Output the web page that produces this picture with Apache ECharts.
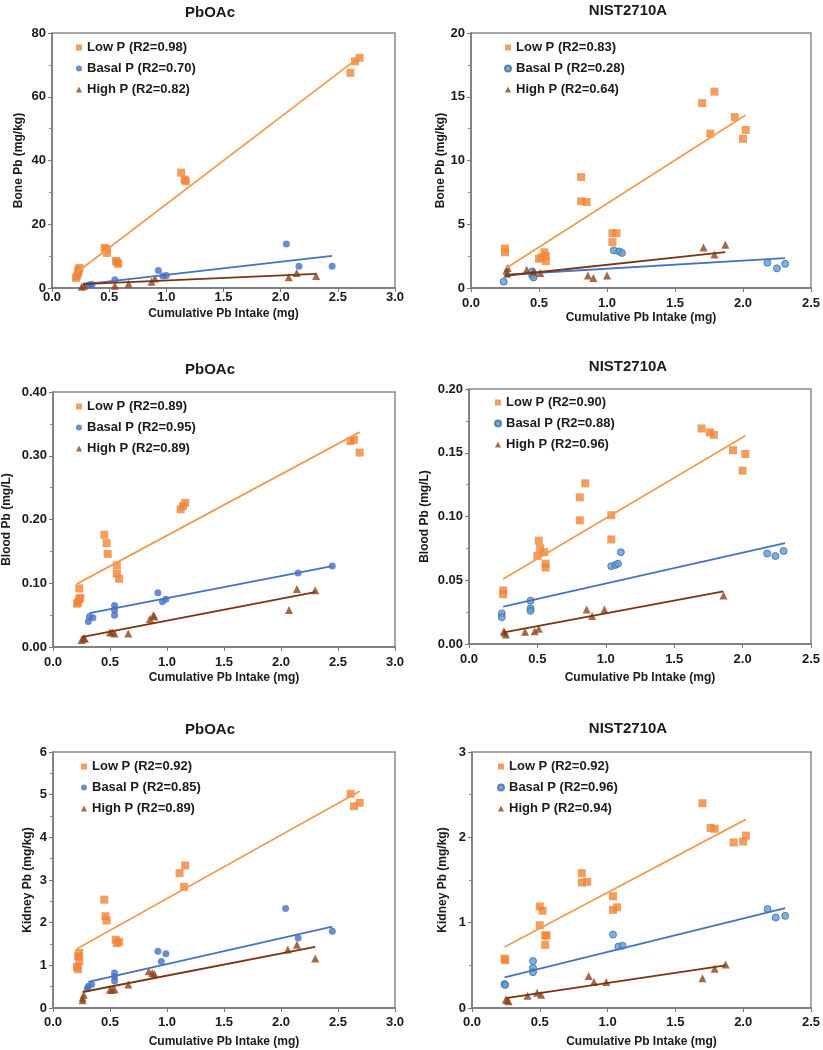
<!DOCTYPE html>
<html>
<head>
<meta charset="utf-8">
<script src="https://cdn.jsdelivr.net/npm/echarts@6/dist/echarts.min.js"></script>
<style>
html,body{margin:0;padding:0;background:#fff;}
#chart{width:823px;height:1050px;}
</style>
</head>
<body>
<div id="chart"></div>
<script>
// ---------- DATA ----------
const panelTitles = ['PbOAc', 'NIST2710A', 'PbOAc', 'NIST2710A', 'PbOAc', 'NIST2710A'];
const yAxisNames = ['Bone Pb (mg/kg)', 'Bone Pb (mg/kg)', 'Blood Pb (mg/L)', 'Blood Pb (mg/L)', 'Kidney Pb (mg/kg)', 'Kidney Pb (mg/kg)'];
const xAxisName = 'Cumulative Pb Intake (mg)';
const yMax = [80, 20, 0.40, 0.20, 6, 3];
const yInterval = [20, 5, 0.10, 0.05, 1, 1];
const yDecimals = [0, 0, 2, 2, 0, 0];
const xMax = [3.0, 2.5, 3.0, 2.5, 3.0, 2.5];

const legendLow = ['Low P (R2=0.98)', 'Low P (R2=0.83)', 'Low P (R2=0.89)', 'Low P (R2=0.90)', 'Low P (R2=0.92)', 'Low P (R2=0.92)'];
const legendBasal = ['Basal P (R2=0.70)', 'Basal P (R2=0.28)', 'Basal P (R2=0.95)', 'Basal P (R2=0.88)', 'Basal P (R2=0.85)', 'Basal P (R2=0.96)'];
const legendHigh = ['High P (R2=0.82)', 'High P (R2=0.64)', 'High P (R2=0.89)', 'High P (R2=0.96)', 'High P (R2=0.89)', 'High P (R2=0.94)'];

// Bone, PbOAc
const boneOAcLow = [[0.21,3.2],[0.22,3.9],[0.23,4.8],[0.23,5.6],[0.24,6.3],[0.46,12.6],[0.48,12.2],[0.48,11.0],[0.56,8.5],[0.57,8.0],[0.58,7.6],[1.13,36.2],[1.16,34.0],[1.17,33.5],[2.61,67.5],[2.65,71.1],[2.69,72.2]];
const boneOAcBasal = [[0.31,0.8],[0.33,1.0],[0.35,1.1],[0.55,2.6],[0.93,5.5],[0.97,3.8],[1.0,3.9],[2.05,13.8],[2.16,6.8],[2.45,6.8]];
const boneOAcHigh = [[0.26,0.4],[0.28,0.7],[0.55,0.7],[0.67,1.3],[0.87,2.0],[0.90,3.0],[2.07,3.4],[2.14,4.7],[2.31,3.8]];
const boneOAcLowFit = [[0.21,4.7],[2.69,72.5]];
const boneOAcBasalFit = [[0.33,1.35],[2.45,10.1]];
const boneOAcHighFit = [[0.27,1.2],[2.31,4.4]];

// Bone, NIST2710A
const boneNistLow = [[0.25,3.1],[0.25,2.8],[0.50,2.3],[0.52,2.4],[0.54,2.8],[0.55,2.5],[0.55,2.1],[0.81,8.7],[0.81,6.8],[0.85,6.75],[1.04,4.3],[1.07,4.3],[1.04,3.6],[1.70,14.5],[1.79,15.4],[1.76,12.1],[1.94,13.4],[2.00,11.7],[2.02,12.4]];
const boneNistBasal = [[0.24,0.5],[0.45,1.3],[0.45,1.0],[0.46,0.83],[1.05,2.95],[1.09,2.87],[1.11,2.75],[2.18,1.98],[2.25,1.54],[2.31,1.9]];
const boneNistHigh = [[0.26,1.38],[0.265,1.12],[0.27,1.56],[0.41,1.43],[0.46,1.28],[0.51,1.17],[0.86,0.99],[0.90,0.78],[1.00,0.99],[1.71,3.18],[1.79,2.63],[1.87,3.39]];
const boneNistLowFit = [[0.26,1.56],[2.02,13.56]];
const boneNistBasalFit = [[0.25,1.04],[2.31,2.35]];
const boneNistHighFit = [[0.25,0.96],[1.87,2.82]];

// Blood, PbOAc
const bloodOAcLow = [[0.21,0.068],[0.22,0.070],[0.23,0.075],[0.24,0.077],[0.23,0.092],[0.45,0.176],[0.47,0.163],[0.48,0.146],[0.56,0.128],[0.56,0.115],[0.58,0.107],[1.12,0.216],[1.14,0.221],[1.16,0.226],[2.61,0.323],[2.64,0.325],[2.69,0.305]];
const bloodOAcBasal = [[0.31,0.040],[0.32,0.048],[0.35,0.046],[0.54,0.065],[0.54,0.058],[0.54,0.050],[0.92,0.085],[0.96,0.071],[0.99,0.075],[2.15,0.116],[2.45,0.127]];
const bloodOAcHigh = [[0.25,0.011],[0.27,0.014],[0.28,0.013],[0.50,0.023],[0.52,0.023],[0.54,0.021],[0.66,0.021],[0.85,0.044],[0.88,0.050],[0.89,0.048],[2.07,0.058],[2.14,0.091],[2.30,0.089]];
const bloodOAcLowFit = [[0.21,0.099],[2.69,0.337]];
const bloodOAcBasalFit = [[0.32,0.053],[2.45,0.127]];
const bloodOAcHighFit = [[0.25,0.0156],[2.30,0.086]];

// Blood, NIST2710A
const bloodNistLow = [[0.25,0.042],[0.25,0.039],[0.51,0.081],[0.52,0.075],[0.50,0.069],[0.55,0.072],[0.56,0.063],[0.56,0.060],[0.81,0.115],[0.81,0.097],[0.85,0.126],[1.04,0.101],[1.04,0.082],[1.70,0.169],[1.76,0.166],[1.79,0.164],[1.93,0.152],[2.00,0.136],[2.02,0.149]];
const bloodNistBasal = [[0.24,0.024],[0.24,0.021],[0.45,0.034],[0.45,0.028],[0.45,0.026],[1.04,0.061],[1.07,0.062],[1.09,0.063],[1.11,0.072],[2.18,0.071],[2.24,0.069],[2.30,0.073]];
const bloodNistHigh = [[0.255,0.010],[0.27,0.0075],[0.26,0.009],[0.41,0.0097],[0.48,0.010],[0.51,0.012],[0.86,0.027],[0.90,0.022],[0.99,0.027],[1.86,0.038]];
const bloodNistLowFit = [[0.25,0.051],[2.02,0.1634]];
const bloodNistBasalFit = [[0.25,0.0293],[2.31,0.0792]];
const bloodNistHighFit = [[0.255,0.0092],[1.86,0.0413]];

// Kidney, PbOAc
const kidneyOAcLow = [[0.21,0.96],[0.22,0.91],[0.23,1.10],[0.22,1.21],[0.23,1.29],[0.45,2.54],[0.46,2.15],[0.47,2.05],[0.55,1.60],[0.56,1.52],[0.58,1.55],[1.11,3.16],[1.16,3.34],[1.15,2.84],[2.61,5.02],[2.64,4.73],[2.69,4.81]];
const kidneyOAcBasal = [[0.30,0.45],[0.31,0.51],[0.34,0.55],[0.54,0.82],[0.54,0.73],[0.54,0.63],[0.92,1.33],[0.95,1.09],[0.99,1.27],[2.04,2.33],[2.15,1.64],[2.45,1.80]];
const kidneyOAcHigh = [[0.26,0.18],[0.26,0.24],[0.27,0.31],[0.50,0.43],[0.52,0.43],[0.54,0.44],[0.66,0.55],[0.84,0.86],[0.87,0.82],[0.89,0.80],[2.06,1.37],[2.14,1.48],[2.30,1.16]];
const kidneyOAcLowFit = [[0.21,1.39],[2.69,5.08]];
const kidneyOAcBasalFit = [[0.31,0.61],[2.45,1.91]];
const kidneyOAcHighFit = [[0.26,0.375],[2.30,1.43]];

// Kidney, NIST2710A
const kidneyNistLow = [[0.24,0.58],[0.245,0.56],[0.50,1.19],[0.52,1.14],[0.50,0.97],[0.54,0.85],[0.55,0.85],[0.54,0.74],[0.81,1.58],[0.81,1.47],[0.85,1.48],[1.04,1.31],[1.04,1.15],[1.07,1.18],[1.70,2.40],[1.76,2.11],[1.79,2.10],[1.93,1.94],[2.00,1.95],[2.02,2.02]];
const kidneyNistBasal = [[0.24,0.28],[0.245,0.27],[0.45,0.55],[0.45,0.47],[0.45,0.42],[1.04,0.86],[1.08,0.72],[1.11,0.73],[2.18,1.16],[2.24,1.06],[2.31,1.08]];
const kidneyNistHigh = [[0.25,0.10],[0.26,0.09],[0.27,0.08],[0.41,0.145],[0.48,0.18],[0.51,0.155],[0.86,0.375],[0.90,0.305],[0.99,0.305],[1.70,0.35],[1.79,0.46],[1.87,0.51]];
const kidneyNistLowFit = [[0.24,0.715],[2.02,2.21]];
const kidneyNistBasalFit = [[0.24,0.36],[2.31,1.17]];
const kidneyNistHighFit = [[0.25,0.117],[1.87,0.50]];

const lowData = [boneOAcLow, boneNistLow, bloodOAcLow, bloodNistLow, kidneyOAcLow, kidneyNistLow];
const basalData = [boneOAcBasal, boneNistBasal, bloodOAcBasal, bloodNistBasal, kidneyOAcBasal, kidneyNistBasal];
const highData = [boneOAcHigh, boneNistHigh, bloodOAcHigh, bloodNistHigh, kidneyOAcHigh, kidneyNistHigh];
const lowFit = [boneOAcLowFit, boneNistLowFit, bloodOAcLowFit, bloodNistLowFit, kidneyOAcLowFit, kidneyNistLowFit];
const basalFit = [boneOAcBasalFit, boneNistBasalFit, bloodOAcBasalFit, bloodNistBasalFit, kidneyOAcBasalFit, kidneyNistBasalFit];
const highFit = [boneOAcHighFit, boneNistHighFit, bloodOAcHighFit, bloodNistHighFit, kidneyOAcHighFit, kidneyNistHighFit];

// ---------- LAYOUT / STYLE ----------
const grids = [
  {left: 52, top: 33, width: 343, height: 255},
  {left: 471, top: 33, width: 342, height: 255},
  {left: 52, top: 392, width: 343, height: 255},
  {left: 469, top: 389, width: 344, height: 255},
  {left: 53, top: 752, width: 342, height: 256},
  {left: 472, top: 752, width: 341, height: 256}
];
const titlePos = [[205, 0], [623, -2], [205, 357], [623, 354], [205, 717], [623, 716]];
const legendPos = [[76, 41], [504, 41], [76, 400], [494, 396], [81, 760], [497, 760]];
const yNameGap = [27, 23, 40, 38, 19, 23];
const xLabelMargin = [3, 9, 9, 9, 8, 8];
const xNameGap = [20, 24, 25, 28, 28, 28];

const FONT = '"Liberation Sans", Arial, sans-serif';
const TXT = '#1a1a1a';
const ORANGE = '#F08536';
const ORANGE_LINE = '#F29C52';
const BLUE = '#4472C4';
const BLUE_N = '#5B9BD5';
const BLUE_N_BORDER = '#3F6E9E';
const BROWN = '#8E4419';
const BROWN_LINE = '#7A3510';

const option = {
  animation: false,
  backgroundColor: '#fff',
  title: [], legend: [], grid: [], xAxis: [], yAxis: [], series: []
};

for (let i = 0; i < 6; i++) {
  const nist = (i % 2 === 1);
  option.grid.push(Object.assign({show: true, borderColor: '#8a8a8a', borderWidth: 1.5, containLabel: false}, grids[i]));
  option.title.push({
    text: panelTitles[i], left: titlePos[i][0], top: titlePos[i][1], textAlign: 'center',
    textStyle: {fontFamily: FONT, fontSize: 15, fontWeight: 'bold', color: TXT}
  });
  option.xAxis.push({
    type: 'value', gridIndex: i, min: 0, max: xMax[i], interval: 0.5,
    name: xAxisName, nameLocation: 'middle', nameGap: xNameGap[i],
    nameTextStyle: {fontFamily: FONT, fontSize: 12, fontWeight: 'bold', color: TXT},
    axisLine: {show: true, onZero: false, lineStyle: {color: '#777', width: 1.5}},
    axisTick: {show: true, length: 4, lineStyle: {color: '#777'}},
    axisLabel: {margin: xLabelMargin[i], fontFamily: FONT, fontSize: 13, fontWeight: 'bold', color: TXT,
      formatter: v => v.toFixed(1)},
    splitLine: {show: false}
  });
  option.yAxis.push({
    type: 'value', gridIndex: i, min: 0, max: yMax[i], interval: yInterval[i],
    name: yAxisNames[i], nameLocation: 'middle', nameGap: yNameGap[i], nameRotate: 90,
    nameTextStyle: {fontFamily: FONT, fontSize: 12, fontWeight: 'bold', color: TXT},
    axisLine: {show: true, onZero: false, lineStyle: {color: '#777', width: 1.5}},
    axisTick: {show: true, length: 4, lineStyle: {color: '#777'}},
    minorTick: {show: true, splitNumber: 2, length: 3, lineStyle: {color: '#888'}},
    axisLabel: {margin: 6, fontFamily: FONT, fontSize: 13, fontWeight: 'bold', color: TXT,
      formatter: (d => v => v.toFixed(d))(yDecimals[i])},
    splitLine: {show: false}
  });
  option.legend.push({
    orient: 'vertical', left: legendPos[i][0], top: legendPos[i][1],
    itemWidth: 6, itemHeight: 6, itemGap: 8, padding: 0, selectedMode: false,
    textStyle: {fontFamily: FONT, fontSize: 13, fontWeight: 'bold', color: TXT, lineHeight: 13},
    data: [
      {name: legendLow[i], icon: 'rect'},
      {name: legendBasal[i], icon: 'circle'},
      {name: legendHigh[i], icon: 'triangle'}
    ]
  });
  const fitLine = (data, color, tag) => ({
    type: 'line', name: tag + ' fit ' + i, xAxisIndex: i, yAxisIndex: i, data: data,
    showSymbol: false, symbol: 'none', silent: true, z: 3,
    lineStyle: {color: color, width: 1.8}
  });
  option.series.push(fitLine(lowFit[i], ORANGE_LINE, 'low'));
  option.series.push(fitLine(basalFit[i], BLUE, 'basal'));
  option.series.push(fitLine(highFit[i], BROWN_LINE, 'high'));
  option.series.push({
    type: 'scatter', name: legendLow[i], xAxisIndex: i, yAxisIndex: i, data: lowData[i],
    symbol: 'rect', symbolSize: 8, z: 2, itemStyle: {color: ORANGE}
  });
  option.series.push({
    type: 'scatter', name: legendBasal[i], xAxisIndex: i, yAxisIndex: i, data: basalData[i],
    symbol: 'circle', symbolSize: 7, z: 2,
    itemStyle: nist ? {color: BLUE_N, borderColor: BLUE_N_BORDER, borderWidth: 1} : {color: BLUE}
  });
  option.series.push({
    type: 'scatter', name: legendHigh[i], xAxisIndex: i, yAxisIndex: i, data: highData[i],
    symbol: 'triangle', symbolSize: 8, z: 2, itemStyle: {color: BROWN}
  });
}

const chart = echarts.init(document.getElementById('chart'), null, {renderer: 'canvas'});
chart.setOption(option);
</script>
</body>
</html>
